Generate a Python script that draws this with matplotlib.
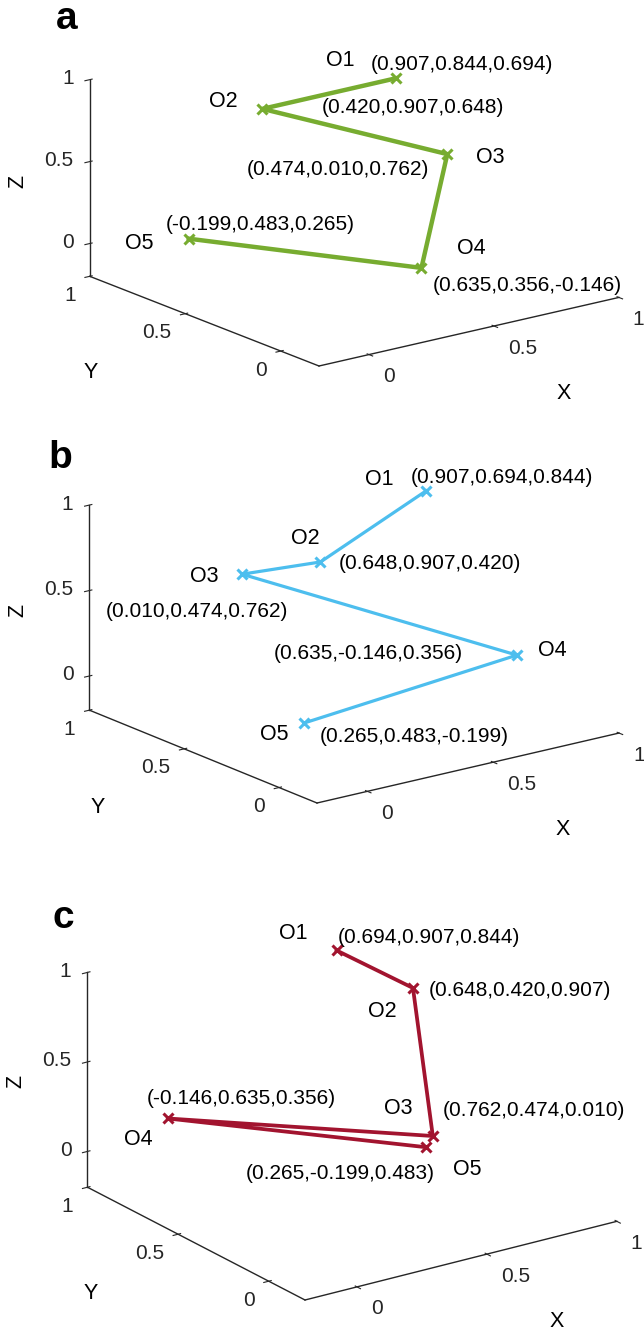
import numpy as np
import matplotlib
matplotlib.use("Agg")
import matplotlib.pyplot as plt

plt.rcParams["font.family"] = ["Liberation Sans", "DejaVu Sans"]

# === DATA ===
names = ["O1", "O2", "O3", "O4", "O5"]

a_x = [0.907, 0.420, 0.474, 0.635, -0.199]
a_y = [0.844, 0.907, 0.010, 0.356, 0.483]
a_z = [0.694, 0.648, 0.762, -0.146, 0.265]

b_x = [0.907, 0.648, 0.010, 0.635, 0.265]
b_y = [0.694, 0.907, 0.474, -0.146, 0.483]
b_z = [0.844, 0.420, 0.762, 0.356, -0.199]

c_x = [0.694, 0.648, 0.762, -0.146, 0.265]
c_y = [0.907, 0.420, 0.474, 0.635, -0.199]
c_z = [0.844, 0.907, 0.010, 0.356, 0.483]

lims = (-0.2, 1.0)
ticks = [0, 0.5, 1]
tick_labels = ["0", "0.5", "1"]

# === LAYOUT (pixels from top-left of a 644x1335 canvas) ===
W, H = 644, 1335
panels = [
    dict(letter="a", x=a_x, y=a_y, z=a_z, color="#77AC30", lw=3.2,
         elev=17.4, azim=-127.4, zr=0.546, corner=(319, 366), xend=(619, 298),
         letter_pos=(56, 29), ylab_dx=-95,
         name_off=[(-56, 18), (-39, 7), (43, -3), (50, 19), (-50, -5)],
         coord_off=[(66, 14), (151, 1), (-109, -15), (106, -18), (71, 14)]),
    dict(letter="b", x=b_x, y=b_y, z=b_z, color="#4DBEEE", lw=2.3,
         elev=17.9, azim=-127.0, zr=0.570, corner=(317, 803), xend=(619, 733),
         letter_pos=(48, 468), ylab_dx=-87,
         name_off=[(-47, 11), (-15, 23), (-38, -2), (35, 5), (-30, -12)],
         coord_off=[(76, 13), (109, -2), (-45, -37), (-149, 2), (110, -14)]),
    dict(letter="c", x=c_x, y=c_y, z=c_z, color="#A2142F", lw=2.7,
         elev=21.2, azim=-124.9, zr=0.606, corner=(305, 1300), xend=(617, 1222),
         letter_pos=(52, 928), ylab_dx=-87,
         name_off=[(-43, 17), (-31, -24), (-35, 28), (-29, -21), (42, -22)],
         coord_off=[(92, 13), (107, -3), (101, 26), (74, 20), (-85, -26)]),
]

axis_col = "#262626"
fs = 15.5
tick_fs = 15

fig = plt.figure(figsize=(W / 100, H / 100), dpi=100)


def proj2d(ax, x, y, z):
    v = ax.get_proj() @ np.array([x, y, z, 1.0])
    return v[0] / v[3], v[1] / v[3]


def label_at(ax, x, y, z, s, dx, dy, **kw):
    ax.annotate(s, xy=proj2d(ax, x, y, z), xycoords="data",
                xytext=(dx, dy), textcoords="offset pixels",
                annotation_clip=False, **kw)


axes = []
for i, p in enumerate(panels):
    ax = fig.add_axes([0.1, 0.1 + 0.3 * i, 0.5, 0.5 * W / H], projection="3d")
    ax.set_proj_type("ortho")
    ax.view_init(elev=p["elev"], azim=p["azim"])
    ax.set_box_aspect((1, 1, p["zr"]))
    ax.set_facecolor("none")
    ax.grid(False)
    ax.set_xlim(*lims)
    ax.set_ylim(*lims)
    ax.set_zlim(*lims)
    for axis in (ax.xaxis, ax.yaxis, ax.zaxis):
        axis.set_pane_color((1, 1, 1, 0))
        axis.pane.set_edgecolor((1, 1, 1, 0))
        axis.line.set_color(axis_col)
        axis.line.set_linewidth(1.0)
        axis.set_ticks(ticks)
        axis.set_major_formatter(plt.NullFormatter())
    ax.tick_params(colors=axis_col, width=0.8)

    ax.plot(p["x"], p["y"], p["z"], color=p["color"], lw=p["lw"],
            marker="x", ms=7, mew=2.2)

    # point names and coordinates
    for k in range(len(names)):
        xx, yy, zz = p["x"][k], p["y"][k], p["z"][k]
        dx, dy = p["name_off"][k]
        label_at(ax, xx, yy, zz, names[k], dx, dy, fontsize=fs,
                 ha="center", va="center")
        dx, dy = p["coord_off"][k]
        label_at(ax, xx, yy, zz, f"({xx:.3f},{yy:.3f},{zz:.3f})", dx, dy,
                 fontsize=fs - 0.5, ha="center", va="center")

    # tick labels, MATLAB style
    lo, hi = lims
    for t, tl in zip(ticks, tick_labels):
        label_at(ax, t, lo, lo, tl, 14, -22, fontsize=tick_fs, color=axis_col,
                 ha="left", va="center")
        label_at(ax, lo, t, lo, tl, -14, -19, fontsize=tick_fs, color=axis_col,
                 ha="right", va="center")
        label_at(ax, lo, hi, t, tl, -16, 1, fontsize=tick_fs, color=axis_col,
                 ha="right", va="center")
    label_at(ax, 0.5, lo, lo, "X", 70, -67, fontsize=fs, ha="center", va="center")
    label_at(ax, lo, 0.5, lo, "Y", p["ylab_dx"], -59, fontsize=fs,
             ha="center", va="center")
    label_at(ax, lo, hi, 0.5, "Z", -72, -20, fontsize=fs, ha="center",
             va="center", rotation=90)

    fig.text(p["letter_pos"][0] / W, 1 - p["letter_pos"][1] / H, p["letter"],
             fontsize=28, fontweight="bold", ha="left", va="baseline")
    axes.append(ax)


def to_px(ax, x, y, z):
    return np.array(ax.transData.transform(proj2d(ax, x, y, z)))


# place each 3D box so its corner and x-axis length match the reference
fig.canvas.draw()
for ax, p in zip(axes, panels):
    bb = ax.get_position(original=False)
    side = bb.width * W
    cen = np.array([(bb.x0 + bb.width / 2) * W, (bb.y0 + bb.height / 2) * H])
    pc = to_px(ax, lims[0], lims[0], lims[0])
    pe = to_px(ax, lims[1], lims[0], lims[0])
    tc = np.array([p["corner"][0], H - p["corner"][1]])
    te = np.array([p["xend"][0], H - p["xend"][1]])
    k = np.linalg.norm(te - tc) / np.linalg.norm(pe - pc)
    u = (pc - cen) / side
    side2 = side * k
    cen2 = tc - side2 * u
    ax.set_position([(cen2[0] - side2 / 2) / W, (cen2[1] - side2 / 2) / H,
                     side2 / W, side2 / H])

fig.savefig("out.png", dpi=100)
